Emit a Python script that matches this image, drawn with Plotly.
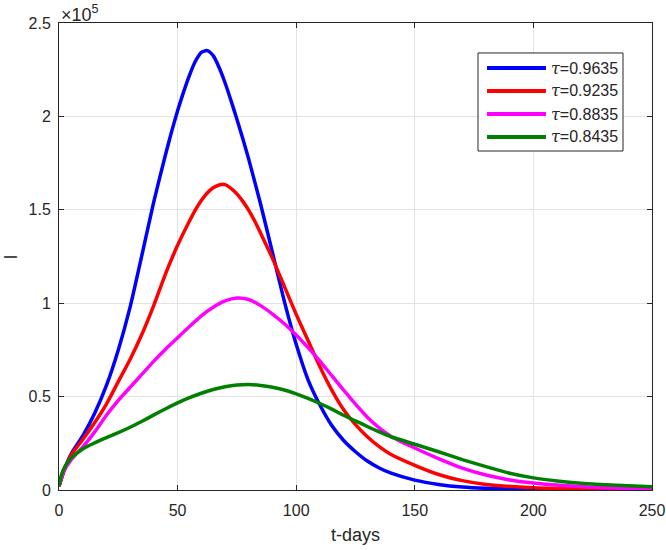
import plotly.graph_objects as go

# time points (days) and I values (in units of 1e5)
t_blue = [0, 2, 5, 10, 15, 20, 25, 30, 35, 40, 45, 47.5, 50, 52.5, 55, 57.5, 60, 62.5, 65, 67.5, 70, 72.5, 75, 77.5, 80, 85, 90, 95, 100, 105, 110, 115, 120, 125, 130, 135, 140, 150, 160, 170, 180, 200, 225, 250]
I_blue = [0.02, 0.10, 0.19, 0.29, 0.41, 0.56, 0.75, 0.98, 1.26, 1.545, 1.80, 1.92, 2.03, 2.13, 2.22, 2.295, 2.343, 2.352, 2.325, 2.262, 2.18, 2.085, 1.985, 1.88, 1.77, 1.53, 1.27, 1.01, 0.78, 0.59, 0.455, 0.345, 0.265, 0.205, 0.155, 0.118, 0.09, 0.053, 0.03, 0.016, 0.009, 0.003, 0.001, 0.0]

t_red = [0, 2, 5, 10, 15, 20, 25, 30, 35, 40, 45, 50, 55, 57.5, 60, 62.5, 65, 67.5, 70, 72.5, 75, 77.5, 80, 82.5, 85, 90, 95, 100, 105, 110, 115, 120, 125, 130, 135, 140, 150, 160, 170, 180, 200, 225, 250]
I_red = [0.02, 0.10, 0.185, 0.27, 0.36, 0.46, 0.58, 0.70, 0.835, 0.99, 1.16, 1.31, 1.44, 1.50, 1.55, 1.59, 1.618, 1.633, 1.635, 1.615, 1.585, 1.545, 1.497, 1.44, 1.375, 1.24, 1.09, 0.94, 0.80, 0.66, 0.535, 0.43, 0.35, 0.285, 0.232, 0.19, 0.132, 0.083, 0.05, 0.03, 0.012, 0.005, 0.002]

t_mag = [0, 2, 5, 10, 15, 20, 25, 30, 35, 40, 45, 50, 55, 60, 65, 70, 75, 80, 85, 90, 95, 100, 105, 110, 115, 120, 125, 130, 135, 140, 150, 160, 170, 180, 190, 200, 225, 250]
I_mag = [0.02, 0.10, 0.16, 0.23, 0.31, 0.40, 0.48, 0.55, 0.62, 0.69, 0.755, 0.815, 0.875, 0.932, 0.978, 1.012, 1.028, 1.02, 0.987, 0.942, 0.89, 0.83, 0.762, 0.69, 0.612, 0.535, 0.46, 0.39, 0.333, 0.287, 0.225, 0.168, 0.117, 0.08, 0.054, 0.037, 0.015, 0.006]

t_grn = [0, 1, 2.5, 5, 10, 15, 20, 25, 30, 35, 40, 45, 50, 55, 60, 65, 70, 75, 80, 85, 90, 95, 100, 105, 110, 115, 120, 125, 130, 135, 140, 150, 160, 170, 180, 190, 200, 210, 220, 235, 250]
I_grn = [0.02, 0.08, 0.125, 0.17, 0.22, 0.252, 0.28, 0.307, 0.336, 0.368, 0.402, 0.435, 0.466, 0.494, 0.518, 0.538, 0.553, 0.562, 0.565, 0.56, 0.55, 0.535, 0.515, 0.49, 0.463, 0.433, 0.40, 0.37, 0.34, 0.311, 0.285, 0.245, 0.205, 0.163, 0.125, 0.09, 0.065, 0.048, 0.036, 0.025, 0.018]

series_names = ["0.9635", "0.9235", "0.8835", "0.8435"]
series_colors = ["#0000FF", "#FF0000", "#FF00FF", "#008000"]
SCALE = 1e5

y_tickvals = [0, 0.5, 1, 1.5, 2, 2.5]
y_ticktext = ["0", "0.5", "1", "1.5", "2", "2.5"]
x_tickvals = [0, 50, 100, 150, 200, 250]

AX = "#262626"
FONT = "Liberation Sans, Arial, Helvetica, sans-serif"
TAU = "<span style=\"font-family:'DejaVu Serif';font-style:italic\">τ</span>"

fig = go.Figure()
data = [(t_blue, I_blue), (t_red, I_red), (t_mag, I_mag), (t_grn, I_grn)]
for (tt, ii), name, col in zip(data, series_names, series_colors):
    fig.add_trace(go.Scatter(
        x=tt, y=[v * SCALE for v in ii], mode="lines",
        line=dict(color=col, width=3.5, shape="spline", smoothing=0.6),
        name=TAU + "=" + name, showlegend=False,
    ))

# legend box (drawn in paper coordinates)
LX0, LX1, LY0, LY1 = 0.7066, 0.9511, 0.7259, 0.9358
row_y = [0.9036, 0.8544, 0.8051, 0.7559]
shapes = [dict(type="rect", xref="paper", yref="paper", x0=LX0, x1=LX1, y0=LY0, y1=LY1,
               line=dict(color=AX, width=1), fillcolor="white", layer="above")]
annotations = []
for name, col, ry in zip(series_names, series_colors, row_y):
    shapes.append(dict(type="line", xref="paper", yref="paper", x0=0.7218, x1=0.8212, y0=ry, y1=ry,
                       line=dict(color=col, width=4), layer="above"))
    annotations.append(dict(text=TAU + "=" + name, xref="paper", yref="paper", x=0.826, y=ry,
                            xanchor="left", yanchor="middle", showarrow=False,
                            font=dict(size=16, color=AX, family=FONT)))

annotations += [
    dict(text="×10<sup>5</sup>", xref="paper", yref="paper", x=0.0, y=1.0,
         xanchor="left", yanchor="bottom", showarrow=False, yshift=-4,
         font=dict(size=18, color=AX, family=FONT)),
    dict(text="I", xref="paper", yref="paper", x=-0.081, y=0.5, textangle=-90,
         xanchor="center", yanchor="middle", showarrow=False,
         font=dict(size=18, color=AX, family=FONT)),
    dict(text="t-days", xref="paper", yref="paper", x=0.5, y=-0.096,
         xanchor="center", yanchor="middle", showarrow=False,
         font=dict(size=18, color=AX, family=FONT)),
]

fig.update_layout(
    width=666, height=550,
    margin=dict(l=59, r=14, t=23, b=60),
    paper_bgcolor="white", plot_bgcolor="white",
    font=dict(family=FONT, size=16, color=AX),
    showlegend=False,
    shapes=shapes, annotations=annotations,
    xaxis=dict(range=[0, 250], tickvals=x_tickvals, ticks="inside", ticklen=5,
               tickcolor=AX, showline=True, linecolor=AX, linewidth=1, mirror="ticks",
               showgrid=True, gridcolor="#e3e3e3", gridwidth=1, zeroline=False,
               tickfont=dict(size=16, color=AX), ticklabelstandoff=6, automargin=False),
    yaxis=dict(range=[0, 2.5 * SCALE], tickvals=[v * SCALE for v in y_tickvals], ticktext=y_ticktext,
               ticks="inside", ticklen=5, tickcolor=AX, showline=True, linecolor=AX, linewidth=1,
               mirror="ticks", showgrid=True, gridcolor="#e3e3e3", gridwidth=1, zeroline=False,
               tickfont=dict(size=16, color=AX), ticklabelstandoff=4, automargin=False),
)

fig.write_html("out.html", config={"displayModeBar": False},
               post_script="document.body.style.margin='0px';")
